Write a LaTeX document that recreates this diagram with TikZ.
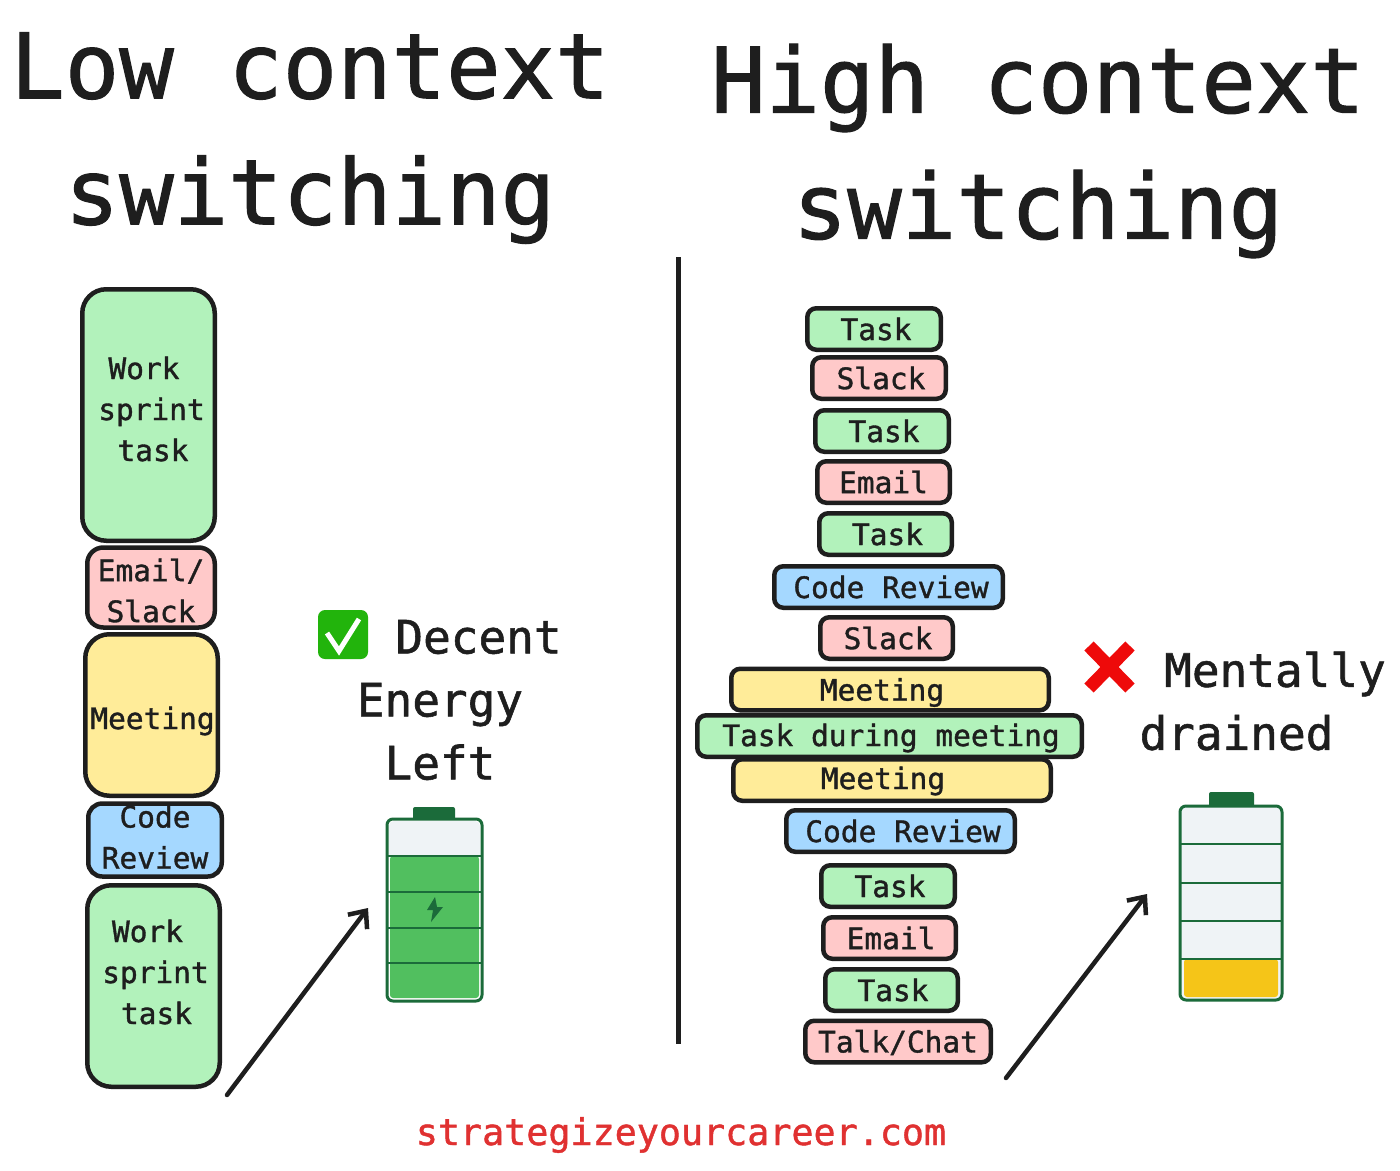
\documentclass[tikz,border=0pt]{standalone}
\usepackage{fontspec}
\setmainfont[FakeBold=1.2]{DejaVu Sans Mono}
\usetikzlibrary{arrows.meta}
\definecolor{InkBlack}{HTML}{1E1E1E}
\definecolor{TaskGreen}{HTML}{B2F2BB}
\definecolor{ChatRed}{HTML}{FFC9C9}
\definecolor{MeetYellow}{HTML}{FFEC99}
\definecolor{ReviewBlue}{HTML}{A5D8FF}
\definecolor{SiteRed}{HTML}{E03131}
\definecolor{BatteryDark}{HTML}{1B6B3A}
\definecolor{BatteryGreen}{HTML}{51BF5F}
\definecolor{BatteryEmpty}{HTML}{EFF3F6}
\definecolor{BatteryYellow}{HTML}{F5C518}
\definecolor{CheckGreen}{HTML}{22B40C}
\definecolor{CrossRed}{HTML}{EE0A0A}
\newcommand{\offtext}[3]{\hspace*{#1pt}\raisebox{#2pt}[\height][\depth]{#3}\hspace*{-#1pt}}

\begin{document}
\begin{tikzpicture}[
    x=1pt, y=-1pt,
    block/.style={draw=InkBlack, line width=4.5pt, inner sep=0pt, align=center, text=InkBlack,
      font=\fontsize{29.5}{41}\selectfont},
    tall/.style={block, rounded corners=24pt, minimum width=132.5pt},
    slim/.style={block, rounded corners=9pt, minimum height=41.5pt},
    heading/.style={align=center, text=InkBlack, inner sep=0pt, font=\fontsize{90.5}{126}\selectfont},
    remark/.style={align=center, text=InkBlack, inner sep=0pt, font=\fontsize{46}{63}\selectfont},
    sketcharrow/.style={draw=InkBlack, line width=4.5pt, line cap=round, -{Straight Barb[length=14pt,width=24pt]}},
    shell/.style={draw=BatteryDark, line width=3pt, rounded corners=6pt},
    batterycap/.style={fill=BatteryDark, rounded corners=2pt}
]
  \useasboundingbox (0,0) rectangle (1400,1170);
  \fill[white] (0,0) rectangle (1400,1170);

  % Headings
  \node[heading] (lowTitle) at (310,138) {Low context\\switching};
  \node[heading] (highTitle) at (1038,151) {High context\\switching};

  % Left stack
  \node[tall, fill=TaskGreen, minimum height=251.5pt] (sprintTop) at (148.5,415) {\offtext{-4.5}{6}{Work}\\\offtext{6}{6}{sprint}\\\offtext{4.5}{6}{task}};
  \node[tall, fill=ChatRed, minimum width=127.5pt, minimum height=80pt, rounded corners=16pt] (mailLeft) at (151,587.5) {\offtext{0}{-3}{Email/}\\\offtext{0}{-3}{Slack}};
  \node[tall, fill=MeetYellow, minimum height=161.5pt] (meetLeft) at (151.5,715) {\offtext{1}{-6}{Meeting}};
  \node[tall, fill=ReviewBlue, minimum width=133.5pt, minimum height=73pt, rounded corners=14pt] (codeLeft) at (155,840) {\offtext{0}{3}{Code}\\\offtext{0}{3}{Review}};
  \node[tall, fill=TaskGreen, minimum height=201.5pt] (sprintBot) at (153.5,986) {\offtext{-6}{14}{Work}\\\offtext{4}{14}{sprint}\\\offtext{3}{14}{task}};

  % Right stack
  \foreach \name/\x/\y/\boxw/\col/\dx/\dy/\lab in {
    taskA/874/329/133.5/TaskGreen/2/0/Task, slackA/879/378/133.5/ChatRed/2/0/Slack,
    taskB/882/431/133.5/TaskGreen/2/0/Task, mailA/883.5/482/132.5/ChatRed/0/0/Email,
    taskC/885.5/534/132.5/TaskGreen/2/0/Task, codeA/888.5/587/228.5/ReviewBlue/2.5/0/Code Review,
    slackB/886.5/638/132.5/ChatRed/1.5/0/Slack, meetA/890/689.5/317.5/MeetYellow/-8/-3/Meeting,
    during/889.5/736/384.5/TaskGreen/1.5/-2/Task during meeting, meetB/892/780/317.5/MeetYellow/-9/-1/Meeting,
    codeB/900.5/831/228.5/ReviewBlue/2.5/0/Code Review, taskD/888/886/133.5/TaskGreen/2/0/Task,
    mailB/889.5/938/132.5/ChatRed/1.5/0/Email, taskE/891.5/990/132.5/TaskGreen/1.5/0/Task,
    talk/898/1041.5/185.5/ChatRed/0/-1/{Talk/Chat}}{
    \node[slim, fill=\col, minimum width=\boxw pt] (\name) at (\x,\y) {\offtext{\dx}{\dy}{\lab}};
  }

  % Divider
  \coordinate (divTop) at (678,257);
  \coordinate (divBot) at (678,1044);
  \draw[InkBlack, line width=5pt] (divTop) -- (divBot);

  % Left remark with check mark
  \fill[CheckGreen, rounded corners=7pt] (318,610) rectangle (368,659);
  \draw[white, line width=5pt] (327,633) -- (339,651) -- (359,619);
  \node[remark] (decent) at (440,700) {\hspace*{77pt}Decent\\Energy\\Left};

  % Left battery
  \fill[batterycap] (413,807) rectangle (455,822);
  \fill[white, rounded corners=6pt] (387,819) rectangle (482,1001);
  \fill[BatteryEmpty, rounded corners=5pt] (389,821) rectangle (480,860);
  \fill[BatteryGreen, rounded corners=3pt] (390,856) rectangle (479,998);
  \foreach \y in {856,892,928,963}{
    \draw[BatteryDark, line width=2.5pt] (387,\y) -- (482,\y);
  }
  \draw[shell] (387,819) rectangle (482,1001);
  \fill[BatteryDark] (435,897) -- (427,910) -- (433,910) -- (431,922) -- (443,907) -- (437,907) -- cycle;

  % Right remark with cross
  \draw[CrossRed, line width=13pt] (1089,646) -- (1130,688);
  \draw[CrossRed, line width=13pt] (1130,646) -- (1089,688);
  \node[remark] (drained) at (1236.5,701) {\hspace*{77pt}Mentally\\drained};

  % Right battery
  \fill[batterycap] (1209,792) rectangle (1254,808);
  \fill[BatteryEmpty, rounded corners=6pt] (1180,806) rectangle (1282,1000);
  \fill[BatteryYellow, rounded corners=3pt] (1184,959) rectangle (1278,997);
  \foreach \y in {844,883,921,959}{
    \draw[BatteryDark, line width=2.5pt] (1180,\y) -- (1282,\y);
  }
  \draw[shell] (1180,806) rectangle (1282,1000);

  % Arrows
  \coordinate (arrowLeftFrom) at (227,1095);
  \coordinate (arrowLeftTo) at (368,908);
  \coordinate (arrowRightFrom) at (1006,1078);
  \coordinate (arrowRightTo) at (1147,894);
  \draw[sketcharrow] (arrowLeftFrom) -- (arrowLeftTo);
  \draw[sketcharrow] (arrowRightFrom) -- (arrowRightTo);

  % Footer
  \node[text=SiteRed, inner sep=0pt, font=\fontsize{36.7}{44}\selectfont] (site) at (681,1135) {strategizeyourcareer.com};
\end{tikzpicture}
\end{document}
